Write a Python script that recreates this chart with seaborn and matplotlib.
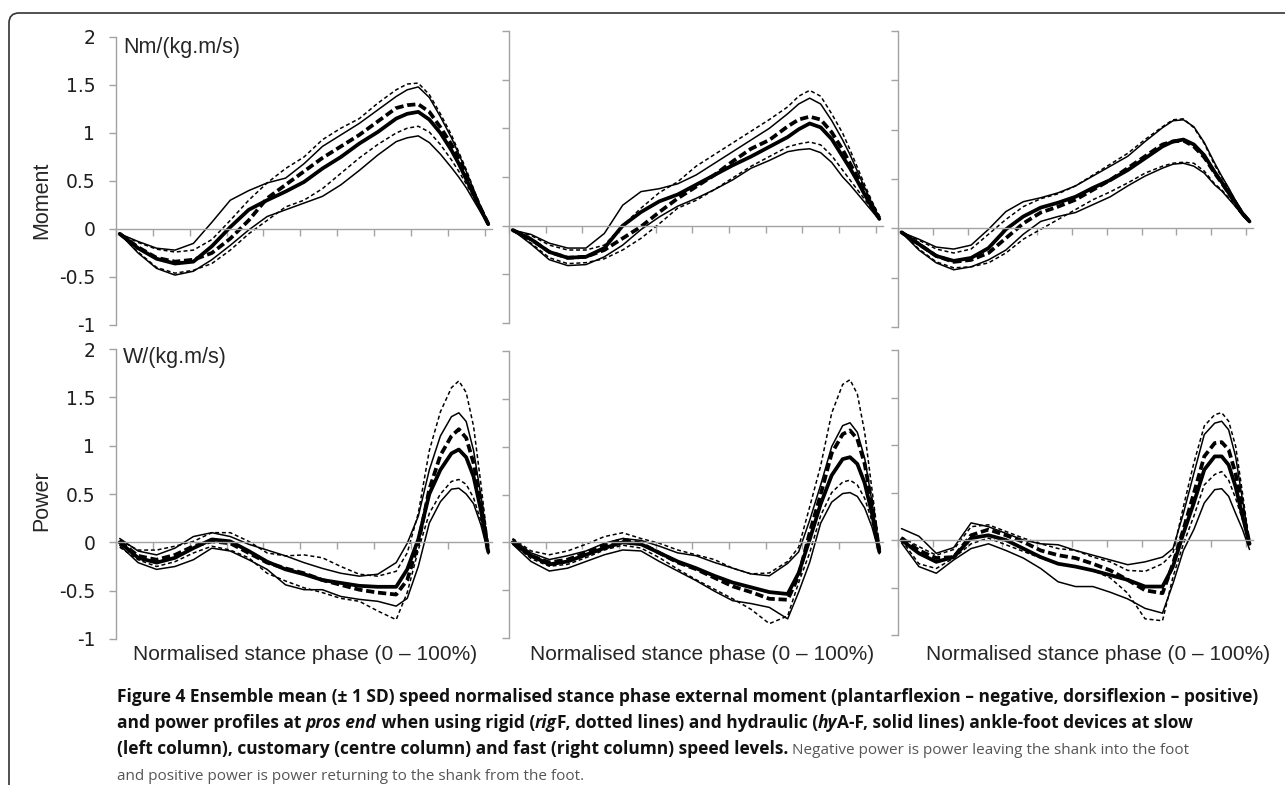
import matplotlib
matplotlib.use("Agg")
import matplotlib.pyplot as plt
from matplotlib.patches import FancyBboxPatch
from matplotlib.transforms import IdentityTransform
import seaborn as sns

STANCE = [0, 5, 10, 15, 20, 25, 30, 35, 40, 45, 50, 55, 60, 65, 70, 75,
          78, 81, 84, 87, 90, 92, 94, 96, 98, 100]

# ---- moment, slow speed
mom_slow_hy = [-0.05, -0.2, -0.31, -0.36, -0.34, -0.18, 0.02, 0.2, 0.3, 0.39, 0.49, 0.63, 0.75, 0.89, 1.01, 1.15,
               1.2, 1.22, 1.14, 1.0, 0.82, 0.68, 0.52, 0.36, 0.2, 0.05]
mom_slow_hy_hi = [-0.05, -0.13, -0.2, -0.22, -0.15, 0.07, 0.3, 0.4, 0.48, 0.53, 0.68, 0.86, 0.98, 1.1, 1.24, 1.38,
                  1.45, 1.48, 1.37, 1.17, 0.95, 0.78, 0.6, 0.41, 0.22, 0.05]
mom_slow_hy_lo = [-0.05, -0.25, -0.41, -0.48, -0.44, -0.32, -0.17, -0.01, 0.13, 0.2, 0.27, 0.34, 0.46, 0.61, 0.77, 0.91,
                  0.95, 0.97, 0.9, 0.78, 0.64, 0.54, 0.43, 0.3, 0.17, 0.04]
mom_slow_rig = [-0.05, -0.19, -0.3, -0.34, -0.32, -0.25, -0.1, 0.09, 0.32, 0.46, 0.6, 0.74, 0.86, 0.98, 1.12, 1.26,
                1.29, 1.3, 1.22, 1.06, 0.88, 0.73, 0.56, 0.38, 0.21, 0.05]
mom_slow_rig_hi = [-0.05, -0.14, -0.21, -0.24, -0.22, -0.11, 0.09, 0.3, 0.48, 0.63, 0.75, 0.93, 1.05, 1.15, 1.31, 1.45,
                   1.51, 1.52, 1.4, 1.2, 0.98, 0.8, 0.62, 0.42, 0.23, 0.06]
mom_slow_rig_lo = [-0.05, -0.24, -0.4, -0.46, -0.43, -0.36, -0.22, -0.05, 0.09, 0.23, 0.3, 0.42, 0.58, 0.74, 0.88, 1.0,
                   1.05, 1.07, 1.01, 0.88, 0.72, 0.6, 0.47, 0.33, 0.19, 0.05]

# ---- moment, customary speed
mom_cust_hy = [-0.045, -0.14, -0.27, -0.33, -0.32, -0.23, 0.0, 0.14, 0.25, 0.32, 0.42, 0.52, 0.62, 0.71, 0.81, 0.91,
               0.99, 1.05, 1.01, 0.89, 0.71, 0.59, 0.46, 0.32, 0.19, 0.07]
mom_cust_hy_hi = [-0.045, -0.09, -0.18, -0.23, -0.23, -0.08, 0.21, 0.35, 0.38, 0.43, 0.52, 0.64, 0.76, 0.88, 1.0, 1.15,
                  1.25, 1.31, 1.25, 1.08, 0.88, 0.73, 0.56, 0.39, 0.23, 0.08]
mom_cust_hy_lo = [-0.045, -0.19, -0.35, -0.41, -0.4, -0.32, -0.2, -0.04, 0.09, 0.2, 0.28, 0.37, 0.47, 0.59, 0.67, 0.76,
                  0.78, 0.79, 0.75, 0.65, 0.5, 0.42, 0.33, 0.24, 0.15, 0.06]
mom_cust_rig = [-0.045, -0.14, -0.27, -0.33, -0.32, -0.25, -0.13, -0.01, 0.14, 0.28, 0.4, 0.52, 0.66, 0.79, 0.88, 1.02,
                1.09, 1.12, 1.09, 0.96, 0.78, 0.64, 0.5, 0.35, 0.21, 0.08]
mom_cust_rig_hi = [-0.045, -0.1, -0.2, -0.25, -0.25, -0.2, 0.0, 0.18, 0.34, 0.45, 0.61, 0.73, 0.85, 0.97, 1.09, 1.22,
                   1.33, 1.39, 1.33, 1.15, 0.95, 0.78, 0.6, 0.42, 0.25, 0.1]
mom_cust_rig_lo = [-0.045, -0.18, -0.33, -0.39, -0.38, -0.34, -0.25, -0.13, 0.02, 0.18, 0.26, 0.37, 0.49, 0.61, 0.71, 0.81,
                   0.84, 0.86, 0.83, 0.72, 0.57, 0.47, 0.37, 0.27, 0.17, 0.07]

# ---- moment, fast speed
mom_fast_hy = [-0.04, -0.16, -0.28, -0.33, -0.3, -0.2, -0.01, 0.12, 0.21, 0.26, 0.32, 0.41, 0.49, 0.59, 0.71, 0.83,
               0.88, 0.9, 0.85, 0.74, 0.57, 0.47, 0.36, 0.26, 0.15, 0.07]
mom_fast_hy_hi = [-0.04, -0.11, -0.19, -0.21, -0.17, -0.01, 0.17, 0.27, 0.31, 0.36, 0.43, 0.53, 0.63, 0.73, 0.88, 1.02,
                  1.09, 1.1, 1.03, 0.87, 0.66, 0.53, 0.41, 0.28, 0.16, 0.07]
mom_fast_hy_lo = [-0.04, -0.22, -0.35, -0.42, -0.39, -0.32, -0.22, -0.06, 0.07, 0.12, 0.16, 0.24, 0.32, 0.43, 0.53, 0.61,
                  0.65, 0.66, 0.63, 0.56, 0.44, 0.38, 0.3, 0.22, 0.13, 0.06]
mom_fast_rig = [-0.04, -0.16, -0.28, -0.34, -0.32, -0.25, -0.1, 0.05, 0.16, 0.22, 0.29, 0.39, 0.49, 0.61, 0.73, 0.85,
                0.88, 0.89, 0.83, 0.72, 0.56, 0.46, 0.36, 0.25, 0.15, 0.07]
mom_fast_rig_hi = [-0.04, -0.12, -0.21, -0.25, -0.21, -0.06, 0.09, 0.22, 0.3, 0.35, 0.43, 0.54, 0.65, 0.76, 0.9, 1.03,
                   1.1, 1.11, 1.02, 0.86, 0.64, 0.52, 0.4, 0.28, 0.16, 0.07]
mom_fast_rig_lo = [-0.04, -0.21, -0.34, -0.4, -0.39, -0.35, -0.25, -0.11, -0.01, 0.09, 0.19, 0.29, 0.37, 0.46, 0.56, 0.63,
                   0.66, 0.67, 0.66, 0.58, 0.45, 0.39, 0.31, 0.22, 0.13, 0.06]

# ---- power, slow speed
pow_slow_hy = [0.0, -0.16, -0.21, -0.16, -0.06, 0.03, 0.01, -0.09, -0.2, -0.28, -0.33, -0.39, -0.42, -0.45, -0.46, -0.46,
               -0.28, 0.03, 0.5, 0.75, 0.92, 0.96, 0.88, 0.68, 0.33, -0.1]
pow_slow_hy_hi = [0.04, -0.09, -0.13, -0.06, 0.06, 0.1, 0.06, -0.02, -0.08, -0.14, -0.21, -0.27, -0.32, -0.35, -0.33, -0.21,
                  -0.01, 0.27, 0.75, 1.1, 1.3, 1.34, 1.25, 0.95, 0.48, -0.05]
pow_slow_hy_lo = [-0.03, -0.21, -0.28, -0.25, -0.18, -0.06, -0.09, -0.18, -0.28, -0.44, -0.49, -0.49, -0.56, -0.59, -0.61, -0.66,
                  -0.58, -0.25, 0.2, 0.42, 0.55, 0.56, 0.5, 0.4, 0.18, -0.12]
pow_slow_rig = [0.01, -0.14, -0.18, -0.13, -0.04, 0.01, -0.01, -0.11, -0.21, -0.27, -0.32, -0.39, -0.44, -0.49, -0.52, -0.54,
                -0.39, -0.01, 0.55, 0.9, 1.1, 1.17, 1.08, 0.82, 0.42, -0.08]
pow_slow_rig_hi = [0.02, -0.08, -0.08, -0.04, 0.01, 0.1, 0.1, 0.01, -0.11, -0.14, -0.13, -0.16, -0.25, -0.33, -0.35, -0.3,
                   -0.11, 0.3, 0.95, 1.35, 1.6, 1.67, 1.55, 1.2, 0.6, -0.05]
pow_slow_rig_lo = [-0.05, -0.18, -0.25, -0.2, -0.11, -0.04, -0.08, -0.16, -0.32, -0.4, -0.47, -0.52, -0.58, -0.61, -0.71, -0.8,
                   -0.52, -0.08, 0.3, 0.5, 0.63, 0.65, 0.6, 0.46, 0.22, -0.08]

# ---- power, customary speed
pow_cust_hy = [0.0, -0.14, -0.23, -0.2, -0.13, -0.06, 0.0, -0.02, -0.11, -0.2, -0.27, -0.35, -0.42, -0.47, -0.52, -0.54,
               -0.32, 0.03, 0.4, 0.7, 0.87, 0.89, 0.82, 0.62, 0.3, -0.1]
pow_cust_hy_hi = [0.03, -0.11, -0.18, -0.14, -0.09, -0.01, 0.04, 0.02, -0.04, -0.11, -0.14, -0.21, -0.27, -0.33, -0.35, -0.22,
                  -0.1, 0.23, 0.6, 1.0, 1.22, 1.25, 1.15, 0.88, 0.42, -0.08]
pow_cust_hy_lo = [-0.02, -0.2, -0.3, -0.27, -0.2, -0.13, -0.08, -0.09, -0.2, -0.3, -0.4, -0.51, -0.61, -0.64, -0.68, -0.8,
                  -0.52, -0.21, 0.2, 0.42, 0.51, 0.52, 0.48, 0.36, 0.16, -0.12]
pow_cust_rig = [0.01, -0.14, -0.21, -0.18, -0.11, -0.03, 0.03, -0.01, -0.11, -0.21, -0.28, -0.37, -0.46, -0.52, -0.59, -0.6,
                -0.35, 0.1, 0.5, 0.93, 1.13, 1.17, 1.08, 0.82, 0.4, -0.08]
pow_cust_rig_hi = [0.04, -0.09, -0.13, -0.09, -0.02, 0.06, 0.1, 0.04, -0.01, -0.08, -0.13, -0.18, -0.27, -0.33, -0.32, -0.2,
                   -0.05, 0.37, 0.8, 1.35, 1.65, 1.7, 1.55, 1.15, 0.55, -0.05]
pow_cust_rig_lo = [-0.01, -0.17, -0.25, -0.23, -0.16, -0.08, -0.03, -0.06, -0.16, -0.28, -0.39, -0.49, -0.59, -0.7, -0.85, -0.77,
                   -0.42, -0.11, 0.28, 0.52, 0.63, 0.65, 0.6, 0.46, 0.22, -0.1]

# ---- power, fast speed
pow_fast_hy = [0.0, -0.14, -0.23, -0.18, 0.02, 0.05, 0.0, -0.09, -0.18, -0.25, -0.28, -0.32, -0.37, -0.42, -0.49, -0.49,
               -0.28, 0.07, 0.39, 0.74, 0.88, 0.88, 0.79, 0.56, 0.25, -0.04]
pow_fast_hy_hi = [0.12, 0.04, -0.14, -0.08, 0.18, 0.14, 0.07, 0.0, -0.04, -0.05, -0.11, -0.16, -0.21, -0.26, -0.23, -0.18,
                  -0.09, 0.28, 0.7, 1.11, 1.23, 1.25, 1.16, 0.88, 0.42, -0.04]
pow_fast_hy_lo = [-0.03, -0.28, -0.35, -0.21, -0.09, -0.04, -0.11, -0.19, -0.3, -0.44, -0.49, -0.49, -0.55, -0.62, -0.72, -0.77,
                  -0.46, -0.11, 0.11, 0.39, 0.53, 0.54, 0.46, 0.28, 0.11, -0.1]
pow_fast_rig = [0.02, -0.11, -0.19, -0.18, 0.05, 0.11, 0.05, -0.02, -0.11, -0.16, -0.19, -0.25, -0.32, -0.42, -0.53, -0.56,
                -0.25, 0.11, 0.49, 0.88, 1.02, 1.03, 0.95, 0.7, 0.32, -0.04]
pow_fast_rig_hi = [0.03, -0.07, -0.16, -0.1, 0.14, 0.16, 0.09, 0.02, -0.04, -0.09, -0.11, -0.18, -0.23, -0.32, -0.33, -0.25,
                   -0.14, 0.35, 0.81, 1.2, 1.32, 1.34, 1.25, 0.99, 0.49, -0.04]
pow_fast_rig_lo = [0.0, -0.25, -0.3, -0.19, -0.04, 0.02, -0.05, -0.12, -0.19, -0.25, -0.28, -0.32, -0.4, -0.56, -0.83, -0.85,
                   -0.39, -0.04, 0.25, 0.58, 0.69, 0.72, 0.63, 0.44, 0.21, -0.04]

Y_TICKS = [-1, -0.5, 0, 0.5, 1, 1.5, 2]
Y_TICK_LABELS = ['-1', '-0.5', '0', '0.5', '1', '1.5', '2']
ROW_LABELS = ['Moment', 'Power']
UNIT_LABELS = ['Nm/(kg.m/s)', 'W/(kg.m/s)']
X_LABEL = 'Normalised stance phase (0 \u2013 100%)'

CAPTION = [
    [("Figure 4 Ensemble mean (\u00b1 1 SD) speed normalised stance phase external moment "
      "(plantarflexion \u2013 negative, dorsiflexion \u2013 positive)", 'bold', 'normal')],
    [("and power profiles at ", 'bold', 'normal'),
     ("pros end", 'bold', 'italic'),
     (" when using rigid (", 'bold', 'normal'),
     ("rig", 'bold', 'italic'),
     ("F, dotted lines) and hydraulic (", 'bold', 'normal'),
     ("hy", 'bold', 'italic'),
     ("A-F, solid lines) ankle-foot devices at slow", 'bold', 'normal')],
    [("(left column), customary (centre column) and fast (right column) speed levels.", 'bold', 'normal'),
     (" Negative power is power leaving the shank into the foot", 'normal', 'normal')],
    [("and positive power is power returning to the shank from the foot.", 'normal', 'normal')],
]

panels = [
    [(mom_slow_hy, mom_slow_hy_hi, mom_slow_hy_lo, mom_slow_rig, mom_slow_rig_hi, mom_slow_rig_lo),
     (mom_cust_hy, mom_cust_hy_hi, mom_cust_hy_lo, mom_cust_rig, mom_cust_rig_hi, mom_cust_rig_lo),
     (mom_fast_hy, mom_fast_hy_hi, mom_fast_hy_lo, mom_fast_rig, mom_fast_rig_hi, mom_fast_rig_lo)],
    [(pow_slow_hy, pow_slow_hy_hi, pow_slow_hy_lo, pow_slow_rig, pow_slow_rig_hi, pow_slow_rig_lo),
     (pow_cust_hy, pow_cust_hy_hi, pow_cust_hy_lo, pow_cust_rig, pow_cust_rig_hi, pow_cust_rig_lo),
     (pow_fast_hy, pow_fast_hy_hi, pow_fast_hy_lo, pow_fast_rig, pow_fast_rig_hi, pow_fast_rig_lo)],
]

W, H = 1285, 785
sns.set_style('white')
plt.rcParams['font.family'] = ['Liberation Sans', 'DejaVu Sans']

fig = plt.figure(figsize=(W / 100, H / 100), dpi=100)


def px_rect(left, top, right, bottom):
    # pixel box (from top-left) -> figure fraction
    return [left / W, 1 - bottom / H, (right - left) / W, (bottom - top) / H]


# axes boxes in pixels: left spine, y=2, right end, y=-1
boxes = [
    [(116, 37, 492, 325), (509, 31, 883, 323), (898, 31, 1253, 327)],
    [(116, 349, 492, 639), (509, 351, 883, 638), (898, 350, 1253, 635)],
]

AXIS_GREY = '#a3a3a3'
thin_solid = dict(color='black', lw=1.1)
thin_dash = dict(color='black', lw=1.1, dashes=(2.6, 1.8))
thick_solid = dict(color='black', lw=2.7)
thick_dash = dict(color='black', lw=2.7, dashes=(2.2, 1.0))

for r in range(2):
    for c in range(3):
        ax = fig.add_axes(px_rect(*boxes[r][c]))
        ax.set_facecolor('none')
        hy, hy_hi, hy_lo, rig, rig_hi, rig_lo = panels[r][c]

        sns.lineplot(x=STANCE, y=hy_hi, ax=ax, **thin_solid)
        sns.lineplot(x=STANCE, y=hy_lo, ax=ax, **thin_solid)
        sns.lineplot(x=STANCE, y=rig_hi, ax=ax, **thin_dash)
        sns.lineplot(x=STANCE, y=rig_lo, ax=ax, **thin_dash)
        sns.lineplot(x=STANCE, y=rig, ax=ax, **thick_dash)
        sns.lineplot(x=STANCE, y=hy, ax=ax, **thick_solid)

        ax.set_xlim(-1, 101)
        ax.set_ylim(-1, 2)
        sns.despine(ax=ax)
        ax.spines['bottom'].set_position(('data', 0))
        for s in ('left', 'bottom'):
            ax.spines[s].set_color(AXIS_GREY)
            ax.spines[s].set_linewidth(1.0)

        ax.set_xticks([-1 + 10 * k for k in range(11)])
        ax.tick_params(axis='x', bottom=True, direction='out', length=5, width=1.0,
                       color=AXIS_GREY, labelbottom=False)
        ax.set_yticks(Y_TICKS)
        ax.tick_params(axis='y', left=True, direction='out', length=5, width=1.0,
                       color=AXIS_GREY, pad=10, labelsize=13.5, labelcolor='#1e1e1e')
        if c == 0:
            ax.set_yticklabels(Y_TICK_LABELS, fontfamily='DejaVu Sans')
        else:
            ax.tick_params(axis='y', labelleft=False)
        ax.set_xlabel('')
        ax.set_ylabel('')
        ax.grid(False)

# row titles and units
fig.text(42 / W, 1 - 200 / H, ROW_LABELS[0], rotation=90, ha='center', va='center', fontsize=15.5)
fig.text(42 / W, 1 - 501 / H, ROW_LABELS[1], rotation=90, ha='center', va='center', fontsize=15.5)
fig.text(123 / W, 1 - 47 / H, UNIT_LABELS[0], ha='left', va='center', fontsize=15.5)
fig.text(123 / W, 1 - 358 / H, UNIT_LABELS[1], ha='left', va='center', fontsize=15.5)

for cx in (305, 702, 1098):
    fig.text(cx / W, 1 - 654 / H, X_LABEL, ha='center', va='center', fontsize=15)

# caption, piece by piece on each line (bold lead-in, lighter narrower body)
renderer = fig.canvas.get_renderer()
baselines = [702, 728, 754, 780]
for line, base in zip(CAPTION, baselines):
    x_px = 117
    for text, weight, style in line:
        bold = weight == 'bold'
        t = fig.text(x_px / W, 1 - base / H, text, ha='left', va='baseline',
                     fontsize=12.5 if bold else 11.0, fontweight=weight, fontstyle=style,
                     color='#111111' if bold else '#555555',
                     family=['Open Sans', 'DejaVu Sans'])
        x_px = t.get_window_extent(renderer).x1

# rounded frame around the figure, cut off at the right and bottom edges
frame = FancyBboxPatch((9, -60), 1400, H - 13 + 60, boxstyle='round,pad=0,rounding_size=10',
                       transform=IdentityTransform(), fill=False, edgecolor='#333333', lw=1.2)
fig.add_artist(frame)

fig.savefig('out.png', dpi=100)
